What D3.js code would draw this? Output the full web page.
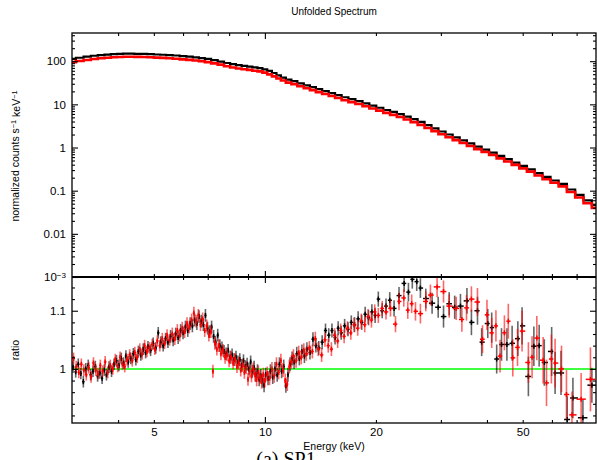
<!DOCTYPE html>
<html>
<head>
<meta charset="utf-8">
<script src="https://cdn.jsdelivr.net/npm/d3@7"></script>
<style>
  body { margin: 0; background: #fff; }
  svg { display: block; font-family: 'Liberation Sans', Arial, sans-serif; }
</style>
</head>
<body>
<svg id="chart" width="597" height="460"></svg>
<script>
/* global d3 */

// unfolded spectrum (bin centres, keV) and the two detectors
const specEnergy = [
  3.0, 3.15, 3.3, 3.45, 3.6, 3.75, 3.9, 4.05, 4.2, 4.35,
  4.5, 4.7, 4.9, 5.1, 5.3, 5.5, 5.75, 6.0, 6.25, 6.5,
  6.75, 7.0, 7.3, 7.6, 7.9, 8.2, 8.5, 8.8, 9.1, 9.4,
  9.7, 10.0, 10.3, 10.6, 10.9, 11.2, 11.6, 12.0, 12.5, 13.0,
  13.5, 14.0, 14.6, 15.2, 15.8, 16.5, 17.2, 18.0, 18.8, 19.6,
  20.5, 21.4, 22.3, 23.3, 24.3, 25.4, 26.5, 27.7, 28.9, 30.2,
  31.6, 33.0, 34.5, 36.1, 37.8, 39.6, 41.5, 43.5, 45.6, 47.8,
  50.1, 52.6, 55.2, 58.0, 61.0, 64.2, 67.6, 71.2, 75.0, 79.0
]
const specBlack = [
  109, 115, 122, 128, 133, 136, 139, 141, 143, 143,
  142, 141, 139, 137, 135, 133, 130, 126, 122, 118,
  113, 108, 101, 94, 87, 82, 78, 75, 72, 69,
  66, 62, 57, 51, 45, 40, 36, 33, 29.5, 26.5,
  24, 21.5, 19.5, 17.5, 15.7, 14.0, 12.6, 11.4, 10.1, 9.0,
  8.0, 7.1, 6.4, 5.7, 5.0, 4.35, 3.75, 3.15, 2.65, 2.25,
  1.92, 1.64, 1.40, 1.19, 1.01, 0.86, 0.73, 0.615, 0.515, 0.43,
  0.36, 0.30, 0.245, 0.2, 0.165, 0.138, 0.102, 0.077, 0.057, 0.044
]
const specRed = [
  98, 104, 110, 116, 121, 124, 127, 129, 131, 131,
  130, 129, 127, 125, 123, 121, 118, 114, 111, 107,
  103, 98, 92, 86, 79, 74, 70, 67, 65, 62,
  60, 56, 51, 46, 41, 37, 33, 30.3, 27.2, 24.4,
  22.1, 19.8, 18.0, 16.1, 14.5, 12.9, 11.6, 10.5, 9.3, 8.3,
  7.4, 6.55, 5.9, 5.25, 4.6, 4.0, 3.45, 2.92, 2.47, 2.1,
  1.79, 1.53, 1.31, 1.12, 0.95, 0.81, 0.69, 0.58, 0.49, 0.41,
  0.34, 0.285, 0.232, 0.19, 0.157, 0.13, 0.096, 0.072, 0.053, 0.041
]

// data / model ratio
const blackEnergy = [
  3.02, 3.07, 3.12, 3.17, 3.22, 3.27, 3.32, 3.37, 3.42, 3.47,
  3.52, 3.57, 3.62, 3.67, 3.72, 3.78, 3.84, 3.90, 3.96, 4.02,
  4.08, 4.14, 4.20, 4.26, 4.33, 4.40, 4.47, 4.54, 4.61, 4.68,
  4.75, 4.82, 4.90, 4.98, 5.06, 5.14, 5.22, 5.30, 5.38, 5.46,
  5.55, 5.64, 5.73, 5.82, 5.91, 6.00, 6.09, 6.18, 6.27, 6.36,
  6.45, 6.54, 6.63, 6.72, 6.81, 6.90, 6.99, 7.08, 7.17, 7.26,
  7.35, 7.45, 7.55, 7.65, 7.75, 7.85, 7.95, 8.05, 8.15, 8.25,
  8.35, 8.45, 8.55, 8.65, 8.75, 8.85, 8.95, 9.05, 9.15, 9.25,
  9.35, 9.45, 9.55, 9.65, 9.75, 9.85, 9.95, 10.05, 10.2, 10.35,
  10.5, 10.65, 10.8, 10.95, 11.1, 11.25, 11.4, 11.55, 11.7, 11.85,
  12.0, 12.2, 12.4, 12.6, 12.8, 13.0, 13.25, 13.5, 13.75, 14.0,
  14.3, 14.6, 14.9, 15.2, 15.5, 15.8, 16.1, 16.45, 16.8, 17.15,
  17.5, 17.9, 18.3, 18.7, 19.1, 19.5, 19.9, 20.3, 20.8, 21.3,
  21.8, 22.4, 23.1, 23.85, 24.5, 25.1, 25.8, 26.4, 27.3, 28.4,
  29.5, 30.5, 31.6, 32.7, 33.9, 35.3, 36.3, 37.7, 38.7, 40.2,
  41.2, 42.5, 43.8, 45.3, 46.8, 48.5, 49.8, 51.8, 53.6, 55.4,
  57.2, 59.9, 61.2, 63.5, 66.0, 68.4, 72.8, 77.0
]
const blackRatio = [
  1.003, 0.995, 1.008, 0.992, 0.978, 1.000, 1.006, 0.990, 0.996, 1.004,
  0.988, 0.993, 0.984, 0.998, 0.990, 1.003, 0.996, 1.008, 1.014, 1.006,
  1.018, 1.010, 1.022, 1.012, 1.018, 1.026, 1.016, 1.030, 1.024, 1.034,
  1.028, 1.038, 1.032, 1.044, 1.036, 1.062, 1.046, 1.040, 1.052, 1.046,
  1.056, 1.050, 1.060, 1.054, 1.066, 1.062, 1.072, 1.066, 1.078, 1.074,
  1.084, 1.078, 1.090, 1.082, 1.076, 1.092, 1.070, 1.064, 1.072, 1.056,
  1.046, 1.058, 1.040, 1.036, 1.030, 1.026, 1.032, 1.020, 1.024, 1.016,
  1.020, 1.012, 1.016, 1.006, 1.014, 1.004, 1.008, 1.000, 1.012, 0.996,
  1.002, 0.990, 0.996, 0.982, 0.988, 0.980, 0.972, 0.990, 0.984, 0.996,
  0.986, 1.000, 0.990, 1.008, 0.996, 1.004, 0.971, 0.990, 1.008, 1.018,
  1.012, 1.026, 1.018, 1.030, 1.022, 1.034, 1.028, 1.051, 1.040, 1.036,
  1.046, 1.066, 1.058, 1.066, 1.054, 1.070, 1.062, 1.074, 1.068, 1.080,
  1.076, 1.086, 1.080, 1.094, 1.088, 1.098, 1.092, 1.120, 1.100, 1.108,
  1.118, 1.104, 1.126, 1.147, 1.132, 1.154, 1.150, 1.139, 1.121, 1.113,
  1.106, 1.090, 1.112, 1.106, 1.108, 1.117, 1.080, 1.100, 1.046, 1.078,
  1.071, 1.017, 1.042, 1.042, 1.044, 1.052, 1.074, 0.987, 1.039, 1.040,
  1.011, 1.030, 0.993, 0.993, 0.913, 0.950, 0.916, 0.972
]
const blackError = [
  0.010, 0.010, 0.010, 0.010, 0.010, 0.010, 0.010, 0.010, 0.010, 0.010,
  0.010, 0.010, 0.010, 0.010, 0.010, 0.010, 0.010, 0.010, 0.010, 0.010,
  0.010, 0.010, 0.010, 0.010, 0.010, 0.010, 0.010, 0.010, 0.010, 0.010,
  0.010, 0.010, 0.010, 0.010, 0.010, 0.010, 0.010, 0.010, 0.010, 0.010,
  0.011, 0.011, 0.011, 0.011, 0.011, 0.011, 0.011, 0.011, 0.011, 0.011,
  0.011, 0.011, 0.011, 0.011, 0.011, 0.011, 0.011, 0.011, 0.011, 0.011,
  0.011, 0.011, 0.011, 0.011, 0.011, 0.011, 0.011, 0.011, 0.011, 0.011,
  0.011, 0.011, 0.011, 0.011, 0.011, 0.011, 0.011, 0.011, 0.011, 0.011,
  0.012, 0.012, 0.012, 0.012, 0.012, 0.012, 0.012, 0.012, 0.012, 0.012,
  0.012, 0.012, 0.012, 0.012, 0.012, 0.012, 0.012, 0.012, 0.012, 0.012,
  0.012, 0.012, 0.012, 0.012, 0.012, 0.012, 0.012, 0.012, 0.012, 0.012,
  0.012, 0.012, 0.012, 0.012, 0.012, 0.012, 0.012, 0.012, 0.012, 0.012,
  0.013, 0.013, 0.013, 0.013, 0.013, 0.013, 0.013, 0.013, 0.013, 0.013,
  0.014, 0.014, 0.015, 0.015, 0.016, 0.016, 0.016, 0.017, 0.017, 0.018,
  0.018, 0.019, 0.020, 0.020, 0.021, 0.022, 0.022, 0.024, 0.024, 0.025,
  0.026, 0.025, 0.028, 0.028, 0.030, 0.030, 0.032, 0.034, 0.034, 0.036,
  0.040, 0.042, 0.036, 0.038, 0.040, 0.035, 0.032, 0.030
]

const redEnergy = [
  3.03, 3.08, 3.13, 3.18, 3.23, 3.28, 3.33, 3.38, 3.43, 3.48,
  3.53, 3.58, 3.63, 3.69, 3.75, 3.81, 3.87, 3.93, 3.99, 4.05,
  4.11, 4.17, 4.23, 4.30, 4.37, 4.44, 4.51, 4.58, 4.65, 4.72,
  4.79, 4.87, 4.95, 5.03, 5.11, 5.19, 5.27, 5.35, 5.43, 5.52,
  5.61, 5.70, 5.79, 5.88, 5.97, 6.06, 6.15, 6.24, 6.33, 6.42,
  6.51, 6.60, 6.69, 6.78, 6.87, 6.96, 7.05, 7.14, 7.23, 7.32,
  7.41, 7.50, 7.60, 7.70, 7.80, 7.90, 8.00, 8.10, 8.20, 8.30,
  8.40, 8.50, 8.60, 8.70, 8.80, 8.90, 9.00, 9.10, 9.20, 9.30,
  9.40, 9.50, 9.60, 9.70, 9.80, 9.90, 10.0, 10.15, 10.3, 10.45,
  10.6, 10.75, 10.9, 11.05, 11.2, 11.35, 11.5, 11.65, 11.8, 11.95,
  12.15, 12.35, 12.55, 12.75, 12.95, 13.2, 13.45, 13.7, 13.95, 14.25,
  14.55, 14.85, 15.15, 15.45, 15.75, 16.05, 16.4, 16.75, 17.1, 17.45,
  17.85, 18.25, 18.65, 19.05, 19.45, 19.85, 20.3, 20.8, 21.3, 21.9,
  22.6, 23.1, 23.8, 24.4, 25.0, 25.6, 26.4, 27.3, 28.1, 29.3,
  30.5, 31.6, 33.0, 34.2, 35.2, 36.3, 37.7, 38.9, 40.0, 41.2,
  42.3, 43.4, 44.6, 45.7, 47.0, 48.4, 49.8, 51.8, 53.0, 54.6,
  56.8, 58.0, 59.8, 61.2, 63.7, 65.7, 68.0, 72.0, 76.3
]
const redRatio = [
  1.018, 1.004, 0.994, 1.008, 0.998, 0.990, 1.002, 0.986, 1.010, 0.998,
  0.992, 1.006, 0.996, 1.012, 0.994, 1.006, 1.000, 1.016, 1.004, 1.020,
  1.008, 1.004, 1.016, 1.024, 1.014, 1.028, 1.020, 1.034, 1.026, 1.040,
  1.030, 1.036, 1.042, 1.034, 1.048, 1.040, 1.052, 1.044, 1.058, 1.050,
  1.060, 1.052, 1.066, 1.058, 1.070, 1.064, 1.078, 1.072, 1.084, 1.096,
  1.082, 1.092, 1.076, 1.086, 1.066, 1.074, 1.058, 1.064, 0.996, 1.044,
  1.034, 1.040, 1.026, 1.032, 1.020, 1.024, 1.014, 1.020, 1.010, 1.016,
  1.004, 1.010, 0.998, 1.006, 0.994, 1.002, 0.982, 0.996, 0.988, 1.000,
  0.990, 0.982, 0.994, 0.986, 0.978, 0.990, 0.980, 0.992, 0.984, 1.000,
  0.988, 1.008, 0.994, 1.014, 0.998, 0.980, 0.974, 1.004, 1.012, 1.022,
  1.014, 1.028, 1.020, 1.032, 1.026, 1.036, 1.030, 1.052, 1.034, 1.024,
  1.050, 1.040, 1.034, 1.058, 1.048, 1.066, 1.056, 1.070, 1.062, 1.076,
  1.070, 1.082, 1.076, 1.090, 1.084, 1.098, 1.092, 1.104, 1.098, 1.104,
  1.077, 1.116, 1.122, 1.101, 1.112, 1.099, 1.095, 1.116, 1.127, 1.141,
  1.133, 1.108, 1.104, 1.085, 1.105, 1.120, 1.115, 1.051, 1.093, 1.062,
  1.074, 1.022, 1.062, 1.082, 1.019, 1.037, 1.065, 1.011, 1.020, 1.053,
  1.015, 0.976, 1.017, 1.010, 1.000, 0.956, 0.921, 0.948, 0.982
]
const redError = [
  0.010, 0.010, 0.010, 0.010, 0.010, 0.010, 0.010, 0.010, 0.010, 0.010,
  0.010, 0.010, 0.010, 0.010, 0.010, 0.010, 0.010, 0.010, 0.010, 0.010,
  0.010, 0.010, 0.010, 0.010, 0.010, 0.010, 0.010, 0.010, 0.010, 0.010,
  0.010, 0.010, 0.010, 0.010, 0.010, 0.010, 0.010, 0.010, 0.010, 0.010,
  0.011, 0.011, 0.011, 0.011, 0.011, 0.011, 0.011, 0.011, 0.011, 0.011,
  0.011, 0.011, 0.011, 0.011, 0.011, 0.011, 0.011, 0.011, 0.011, 0.011,
  0.011, 0.011, 0.011, 0.011, 0.011, 0.011, 0.011, 0.011, 0.011, 0.011,
  0.011, 0.011, 0.011, 0.011, 0.011, 0.011, 0.011, 0.011, 0.011, 0.011,
  0.012, 0.012, 0.012, 0.012, 0.012, 0.012, 0.012, 0.012, 0.012, 0.012,
  0.012, 0.012, 0.012, 0.012, 0.012, 0.012, 0.012, 0.012, 0.012, 0.012,
  0.012, 0.012, 0.012, 0.012, 0.012, 0.012, 0.012, 0.012, 0.012, 0.012,
  0.012, 0.012, 0.012, 0.012, 0.012, 0.012, 0.012, 0.012, 0.012, 0.012,
  0.013, 0.013, 0.013, 0.013, 0.013, 0.013, 0.013, 0.013, 0.013, 0.014,
  0.014, 0.015, 0.015, 0.015, 0.016, 0.016, 0.017, 0.017, 0.018, 0.018,
  0.019, 0.020, 0.020, 0.021, 0.022, 0.022, 0.024, 0.024, 0.026, 0.026,
  0.027, 0.028, 0.030, 0.030, 0.032, 0.032, 0.035, 0.035, 0.036, 0.038,
  0.040, 0.040, 0.042, 0.042, 0.040, 0.042, 0.040, 0.045, 0.055
]

const xLabels = [5, 10, 20, 50]
const topLabels = [0.001, 0.01, 0.1, 1, 10, 100]
const ratioLabels = [1, 1.1]

const box = { left: 72, right: 596, top: 33, mid: 277, bottom: 423 }
const svg = d3.select('#chart')

const x = d3.scaleLog().domain([3, 79]).range([box.left, box.right])
const yTop = d3.scaleLog().domain([1e-3, 450]).range([box.mid, box.top])
const yRatio = d3.scaleLinear().domain([0.907, 1.158]).range([box.bottom, box.mid])

function tickGroup (axis, tx, ty) {
  svg.append('g')
    .attr('transform', `translate(${tx},${ty})`)
    .call(axis)
    .call(g => g.select('.domain').remove())
    .call(g => g.selectAll('line').attr('stroke-width', 1.1))
}

function addTicks () {
  const minorX = x.ticks().filter(d => d !== 10 && d > 3)
  // x ticks: top of upper panel, both sides of the divider, bottom of ratio panel
  tickGroup(d3.axisBottom(x).tickValues(minorX).tickSize(3).tickFormat(''), 0, box.top)
  tickGroup(d3.axisBottom(x).tickValues([10]).tickSize(6).tickFormat(''), 0, box.top)
  tickGroup(d3.axisTop(x).tickValues(minorX).tickSize(3).tickFormat(''), 0, box.mid)
  tickGroup(d3.axisTop(x).tickValues([10]).tickSize(6).tickFormat(''), 0, box.mid)
  tickGroup(d3.axisBottom(x).tickValues(minorX).tickSize(3).tickFormat(''), 0, box.mid)
  tickGroup(d3.axisBottom(x).tickValues([10]).tickSize(6).tickFormat(''), 0, box.mid)
  tickGroup(d3.axisTop(x).tickValues(minorX).tickSize(3).tickFormat(''), 0, box.bottom)
  tickGroup(d3.axisTop(x).tickValues([10]).tickSize(6).tickFormat(''), 0, box.bottom)

  const minorTop = yTop.ticks().filter(d => !topLabels.includes(d))
  tickGroup(d3.axisRight(yTop).tickValues(minorTop).tickSize(3).tickFormat(''), box.left, 0)
  tickGroup(d3.axisRight(yTop).tickValues(topLabels).tickSize(6).tickFormat(''), box.left, 0)
  tickGroup(d3.axisLeft(yTop).tickValues(minorTop).tickSize(3).tickFormat(''), box.right, 0)
  tickGroup(d3.axisLeft(yTop).tickValues(topLabels).tickSize(6).tickFormat(''), box.right, 0)

  const minorRatio = d3.range(0.92, 1.15, 0.02).filter(d => Math.abs(d - 1) > 0.001 && Math.abs(d - 1.1) > 0.001)
  tickGroup(d3.axisRight(yRatio).tickValues(minorRatio).tickSize(3).tickFormat(''), box.left, 0)
  tickGroup(d3.axisRight(yRatio).tickValues(ratioLabels).tickSize(6).tickFormat(''), box.left, 0)
  tickGroup(d3.axisLeft(yRatio).tickValues(minorRatio).tickSize(3).tickFormat(''), box.right, 0)
  tickGroup(d3.axisLeft(yRatio).tickValues(ratioLabels).tickSize(6).tickFormat(''), box.right, 0)
}

function addLabels () {
  const fmtTop = d => d >= 1 ? String(d) : String(d)
  svg.append('g')
    .attr('transform', `translate(${box.left},0)`)
    .call(d3.axisLeft(yTop).tickValues(topLabels).tickSize(0).tickPadding(6).tickFormat(fmtTop))
    .call(g => g.select('.domain').remove())
    .call(g => g.selectAll('text').attr('font-size', 11.5).attr('font-family', null)
      .filter(d => d === 0.001)
      .text('10')
      .append('tspan').attr('dy', '-0.45em').attr('font-size', '0.7em').text('−3'))

  svg.append('g')
    .attr('transform', `translate(${box.left},0)`)
    .call(d3.axisLeft(yRatio).tickValues(ratioLabels).tickSize(0).tickPadding(6).tickFormat(d => String(d)))
    .call(g => g.select('.domain').remove())
    .call(g => g.selectAll('text').attr('font-size', 11.5).attr('font-family', null))

  svg.append('g')
    .attr('transform', `translate(0,${box.bottom})`)
    .call(d3.axisBottom(x).tickValues(xLabels).tickSize(0).tickPadding(5).tickFormat(d => String(d)))
    .call(g => g.select('.domain').remove())
    .call(g => g.selectAll('text').attr('font-size', 11.5).attr('font-family', null))

  svg.append('text')
    .attr('x', 334).attr('y', 15)
    .attr('text-anchor', 'middle').attr('font-size', 10)
    .text('Unfolded Spectrum')

  svg.append('text')
    .attr('x', 334).attr('y', 450)
    .attr('text-anchor', 'middle').attr('font-size', 10.5)
    .text('Energy (keV)')

  const yl = svg.append('text')
    .attr('transform', 'translate(19,156) rotate(-90)')
    .attr('text-anchor', 'middle').attr('font-size', 10.5)
  yl.append('tspan').text('normalized counts s')
  yl.append('tspan').attr('dy', '-0.4em').attr('font-size', '0.7em').text('−1')
  yl.append('tspan').attr('dy', '0.4em').text(' keV')
  yl.append('tspan').attr('dy', '-0.4em').attr('font-size', '0.7em').text('−1')

  svg.append('text')
    .attr('transform', 'translate(19,350) rotate(-90)')
    .attr('text-anchor', 'middle').attr('font-size', 10.5)
    .text('ratio')

  svg.append('text')
    .attr('x', 286).attr('y', 466)
    .attr('text-anchor', 'middle')
    .attr('font-family', "'Liberation Serif', 'Times New Roman', serif")
    .attr('font-size', 20)
    .text('(a) SP1')
}

function drawSpectrum () {
  const line = values => d3.line()
    .x((d, i) => x(specEnergy[i]))
    .y(d => yTop(d))
    .curve(d3.curveStep)(values)

  const g = svg.append('g').attr('clip-path', 'url(#clipTop)')
  g.append('path').attr('d', line(specBlack))
    .attr('fill', 'none').attr('stroke', '#000').attr('stroke-width', 2.2)
    .attr('transform', 'translate(0,-0.8)')
  g.append('path').attr('d', line(specRed))
    .attr('fill', 'none').attr('stroke', '#f00').attr('stroke-width', 2.6)
    .attr('transform', 'translate(0,0.6)')
}

function drawRatio (energy, ratio, error, color) {
  const pts = energy.map((e, i) => {
    const prev = i > 0 ? energy[i - 1] : e * e / energy[i + 1]
    const next = i < energy.length - 1 ? energy[i + 1] : e * e / energy[i - 1]
    return { lo: Math.sqrt(prev * e), hi: Math.sqrt(e * next), e: e, r: ratio[i], err: error[i] }
  })

  const g = svg.append('g').attr('clip-path', 'url(#clipRatio)')
  g.selectAll('line.err').data(pts).enter().append('line')
    .attr('x1', d => x(d.e)).attr('x2', d => x(d.e))
    .attr('y1', d => yRatio(d.r - d.err)).attr('y2', d => yRatio(d.r + d.err))
    .attr('stroke', color).attr('stroke-width', 1.6).attr('stroke-opacity', 0.6)
  g.selectAll('line.bin').data(pts).enter().append('line')
    .attr('x1', d => x(d.lo)).attr('x2', d => x(d.hi))
    .attr('y1', d => yRatio(d.r)).attr('y2', d => yRatio(d.r))
    .attr('stroke', color).attr('stroke-width', 1.5)
  g.selectAll('line.mid').data(pts).enter().append('line')
    .attr('x1', d => x(d.e)).attr('x2', d => x(d.e))
    .attr('y1', d => yRatio(d.r) - 2.5).attr('y2', d => yRatio(d.r) + 2.5)
    .attr('stroke', color).attr('stroke-width', 1.5)
}

function init () {
  const defs = svg.append('defs')
  defs.append('clipPath').attr('id', 'clipTop').append('rect')
    .attr('x', box.left).attr('y', box.top)
    .attr('width', box.right - box.left).attr('height', box.mid - box.top)
  defs.append('clipPath').attr('id', 'clipRatio').append('rect')
    .attr('x', box.left).attr('y', box.mid)
    .attr('width', box.right - box.left).attr('height', box.bottom - box.mid)

  drawSpectrum()

  svg.append('line')
    .attr('x1', box.left).attr('x2', box.right)
    .attr('y1', yRatio(1)).attr('y2', yRatio(1))
    .attr('stroke', '#00ff00').attr('stroke-width', 1.5)

  drawRatio(blackEnergy, blackRatio, blackError, '#000')
  drawRatio(redEnergy, redRatio, redError, '#f00')

  svg.append('rect')
    .attr('x', box.left).attr('y', box.top)
    .attr('width', box.right - box.left).attr('height', box.bottom - box.top)
    .attr('fill', 'none').attr('stroke', '#000').attr('stroke-width', 1.3)
  svg.append('line')
    .attr('x1', box.left).attr('x2', box.right)
    .attr('y1', box.mid).attr('y2', box.mid)
    .attr('stroke', '#000').attr('stroke-width', 1.8)

  addTicks()
  addLabels()
}

init()
</script>
</body>
</html>
